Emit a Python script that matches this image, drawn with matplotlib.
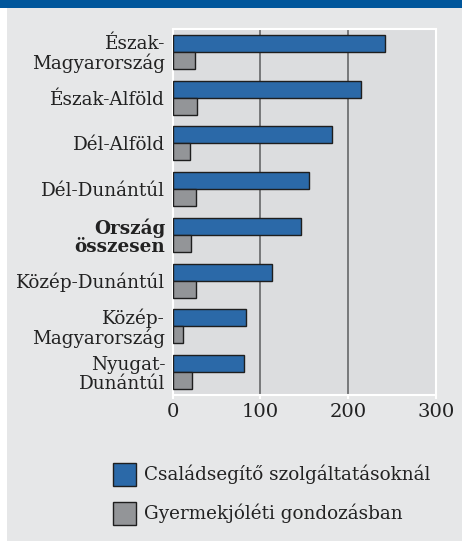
import matplotlib
matplotlib.use("Agg")
import matplotlib.pyplot as plt
from matplotlib.patches import Rectangle
import numpy as np

categories = ["Észak-\nMagyarország", "Észak-Alföld", "Dél-Alföld", "Dél-Dunántúl",
              "Ország\nösszesen", "Közép-Dunántúl", "Közép-\nMagyarország", "Nyugat-\nDunántúl"]
csaladsegito = [242, 214, 181, 155, 146, 113, 83, 81]
gyermekjoleti = [25, 28, 20, 27, 21, 26, 12, 22]
series_names = ["Családsegítő szolgáltatásoknál", "Gyermekjóléti gondozásban"]
xticks = [0, 100, 200, 300]

W, H = 462, 542
FS = 13.2
plt.rcParams['font.family'] = ['DejaVu Serif']
fig = plt.figure(figsize=(W/100, H/100), dpi=100)
fig.patch.set_facecolor("white")

# background panel and top band
fig.patches.append(Rectangle((7/W, 1/H), 1, 1, transform=fig.transFigure,
                             facecolor="#e6e7e8", edgecolor="none", zorder=-10))
fig.patches.append(Rectangle((0, 1-8/H), 1, 8/H, transform=fig.transFigure,
                             facecolor="#00569b", edgecolor="none", zorder=-9))

x0, x1, y0, y1 = 172.7, 436, 29, 395
ax = fig.add_axes([x0/W, 1-y1/H, (x1-x0)/W, (y1-y0)/H])
ax.set_facecolor("#dcdddf")

y = np.arange(len(categories))
h = 0.37
b1 = ax.barh(y - h/2, csaladsegito, height=h, color="#2b69a8", edgecolor="#1e1e1e",
             linewidth=1.0, label=series_names[0], zorder=3)
b2 = ax.barh(y + h/2, gyermekjoleti, height=h, color="#939598", edgecolor="#1e1e1e",
             linewidth=1.0, label=series_names[1], zorder=3)

ax.set_xlim(0, 300)
ax.set_ylim(len(categories)-0.5, -0.5)
ax.set_xticks(xticks)
ax.set_xticklabels([str(t) for t in xticks], fontsize=14, color="#222222")
ax.set_yticks(y)
ax.set_yticklabels(categories, fontsize=FS, color="#222222", ha="right",
                   multialignment="right", linespacing=1.03)
for lbl in ax.get_yticklabels():
    if lbl.get_text().startswith("Ország"):
        lbl.set_fontweight("bold")
ax.tick_params(axis="y", length=0, pad=5.5)
ax.tick_params(axis="x", length=3, width=1.5, color="white", pad=3)
for v in [100, 200]:
    ax.axvline(v, color="#666769", linewidth=1.2, zorder=1)
for s in ax.spines.values():
    s.set_color("white")
    s.set_linewidth(1.5)

f = FS * 100 / 72
hh = (23/f - 0.245) / 0.65
fig.legend(handles=[b1, b2], labels=series_names, loc="upper left",
           bbox_to_anchor=(112.7/W, 1-462.7/H), frameon=False, fontsize=FS,
           handlelength=23/f, handleheight=hh, handletextpad=8/f,
           labelspacing=15.9/f, borderpad=0, borderaxespad=0,
           labelcolor="#222222")

fig.savefig("out.png", dpi=100)
